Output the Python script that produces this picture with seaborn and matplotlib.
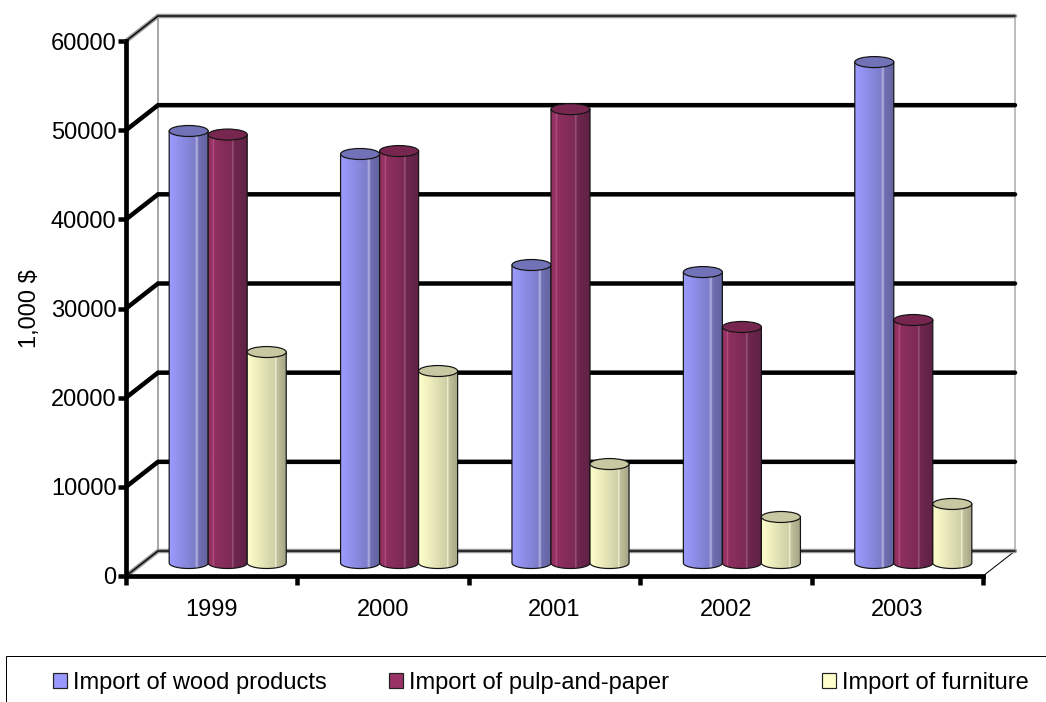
import numpy as np
import pandas as pd
import matplotlib
matplotlib.use("Agg")
import matplotlib.pyplot as plt
import seaborn as sns
from matplotlib.colors import LinearSegmentedColormap
from matplotlib.patches import Ellipse, PathPatch, Patch, Rectangle
from matplotlib.path import Path

years = ["1999", "2000", "2001", "2002", "2003"]
series_names = ["Import of wood products", "Import of pulp-and-paper", "Import of furniture"]
wood_products = [48450, 45870, 33420, 32630, 56180]
pulp_and_paper = [48050, 46200, 50900, 26470, 27250]
furniture = [23660, 21530, 11100, 5160, 6620]
y_tick_values = [0, 10000, 20000, 30000, 40000, 50000, 60000]

frame = pd.DataFrame({
    "year": years * 3,
    "series": np.repeat(series_names, len(years)),
    "value": wood_products + pulp_and_paper + furniture,
})

sns.set_theme(style="white")
plt.rcParams["font.family"] = ["Liberation Sans", "DejaVu Sans"]

W, H = 1046, 702
fig = plt.figure(figsize=(W / 100, H / 100), dpi=100, facecolor="white")
px = 72 / 100  # points per output pixel
FONT = 17

LEFT, RIGHT, TOP, BOTTOM = 126, 983, 41, 576
UNITS_PER_PX = 60000 / (BOTTOM - TOP)
CATS_PER_PX = 5 / (RIGHT - LEFT)

# Front plane: axis lines, ticks and the receding chart walls
ax = fig.add_axes([LEFT / W, 1 - BOTTOM / H, (RIGHT - LEFT) / W, (BOTTOM - TOP) / H])
ax.set_xlim(-0.5, 4.5)
ax.set_ylim(0, 60000)
ax.patch.set_visible(False)
for side in ("top", "right"):
    ax.spines[side].set_visible(False)
for side in ("left", "bottom"):
    ax.spines[side].set_linewidth(4.7 * px)
    ax.spines[side].set_color("black")

ax.set_yticks(y_tick_values)
ax.tick_params(axis="y", which="major", left=True, length=8 * px, width=4.5 * px,
               pad=1, labelsize=FONT, color="black", labelcolor="black")
ax.set_xticks(np.arange(-0.5, 5.0))
ax.set_xticklabels([])
ax.set_xticks(np.arange(5), labels=years, minor=True)
ax.tick_params(axis="x", which="major", bottom=True, length=9 * px, width=4.5 * px, color="black")
ax.tick_params(axis="x", which="minor", bottom=False, length=0, pad=23 * px,
               labelsize=FONT, labelcolor="black")
ax.set_ylabel("1,000 $", fontsize=FONT, color="black", labelpad=7)

depth_x = 32 * CATS_PER_PX
depth_y = 25 * UNITS_PER_PX
x0, x1 = -0.5, 4.5

# Back and side wall edges
ax.plot([x0 + depth_x] * 2, [depth_y, 60000 + depth_y], color="#8c8c8c", lw=1.5 * px, clip_on=False)
ax.plot([x1 + depth_x] * 2, [depth_y, 60000 + depth_y], color="#a8a8a8", lw=1.5 * px, clip_on=False)
ax.plot([x1, x1 + depth_x], [0, depth_y], color="black", lw=1 * px, clip_on=False)

# Gridlines run along the back wall and down the left wall
for v in y_tick_values:
    xs = [x0, x0 + depth_x, x1 + depth_x]
    ys = [v, v + depth_y, v + depth_y]
    if v in (0, 60000):
        ax.plot(xs, ys, color="#9a9a9a", lw=4.5 * px, clip_on=False, solid_joinstyle="miter")
        ax.plot(xs, ys, color="#111111", lw=1.6 * px, clip_on=False, solid_joinstyle="miter")
    else:
        ax.plot(xs, ys, color="black", lw=4.5 * px, clip_on=False, solid_joinstyle="miter")

# Middle plane: the bars themselves, with some room under the baseline for the rounded feet
SHIFT_X, SHIFT_Y, FOOT = 16, 13, 12
ax_bars = fig.add_axes([(LEFT + SHIFT_X) / W, 1 - (BOTTOM - SHIFT_Y + FOOT) / H,
                        (RIGHT - LEFT) / W, (BOTTOM - TOP + FOOT) / H])
palette = {series_names[0]: "#9999FF", series_names[1]: "#993366", series_names[2]: "#FFFFCC"}
sns.barplot(data=frame, x="year", y="value", hue="series", order=years, hue_order=series_names,
            palette=palette, width=0.683, saturation=1, legend=False, ax=ax_bars)
ax_bars.patch.set_visible(False)
ax_bars.set_axis_off()

# Shading across each cylinder, as (position, colour) stops
shades = {
    series_names[0]: [(0, "#9C9CFF"), (0.66, "#7C7CCB"), (0.68, "#AEAEDD"), (0.72, "#A2A2D8"),
                      (0.74, "#7070B4"), (1, "#62629F")],
    series_names[1]: [(0, "#8F2F60"), (0.11, "#993366"), (0.13, "#BB5A88"), (0.16, "#8F2F60"),
                      (0.60, "#7C2A55"), (0.62, "#A86A8A"), (0.65, "#702650"), (1, "#5E2244")],
    series_names[2]: [(0, "#FFFFCC"), (0.70, "#CFCFA6"), (0.72, "#FFFFE8"), (0.75, "#C2C29C"),
                      (1, "#A2A284")],
}
lids = {series_names[0]: "#7272B8", series_names[1]: "#772650", series_names[2]: "#C8C8A2"}

lid_height = 11 * UNITS_PER_PX
for name, container in zip(series_names, ax_bars.containers):
    cmap = LinearSegmentedColormap.from_list(name.replace(" ", "_"), shades[name])
    gradient = np.linspace(0, 1, 128)[None, :]
    for rank, bar in enumerate(container):
        left, w, v = bar.get_x(), bar.get_width(), bar.get_height()
        angles = np.linspace(np.pi, 2 * np.pi, 40)
        base_x = left + w / 2 + w / 2 * np.cos(angles)
        base_y = lid_height / 2 * np.sin(angles)
        outline = np.vstack([[left, v], np.column_stack([base_x, base_y]), [left + w, v], [left, v]])
        body = Path(outline, closed=True)
        z = 3 + rank * 0.01 + series_names.index(name)
        bar.set_visible(False)
        image = ax_bars.imshow(gradient, cmap=cmap, aspect="auto", interpolation="bilinear",
                               extent=(left, left + w, -lid_height, v), zorder=z)
        clip = PathPatch(body, transform=ax_bars.transData, facecolor="none", edgecolor="none")
        image.set_clip_path(clip)
        ax_bars.add_patch(PathPatch(body, facecolor="none", edgecolor="#141414",
                                    lw=1.2 * px, zorder=z + 0.001, clip_on=False))
        ax_bars.add_patch(Ellipse((left + w / 2, v), w, lid_height, facecolor=lids[name],
                                  edgecolor="#141414", lw=1.2 * px, zorder=z + 0.002, clip_on=False))
ax_bars.set_xlim(-0.5, 4.5)
ax_bars.set_ylim(-FOOT * UNITS_PER_PX, 60000)

# Legend strip, open towards the page edges
fig.add_artist(Rectangle((6 / W, -0.02), 1.02, 1 - 655.5 / H + 0.02, transform=fig.transFigure,
                         facecolor="none", edgecolor="black", lw=1 * px))
legend_x = [53, 389, 822]
for name, x in zip(series_names, legend_x):
    handle = Patch(facecolor=palette[name], edgecolor="#222222", linewidth=1.2 * px)
    fig.legend(handles=[handle], labels=[name], loc="center left",
               bbox_to_anchor=(x / W, 1 - 683 / H), frameon=False, fontsize=FONT,
               borderpad=0, borderaxespad=0, handlelength=0.6, handleheight=0.6,
               handletextpad=0.25, labelcolor="black")

fig.savefig("out.png", dpi=100)
